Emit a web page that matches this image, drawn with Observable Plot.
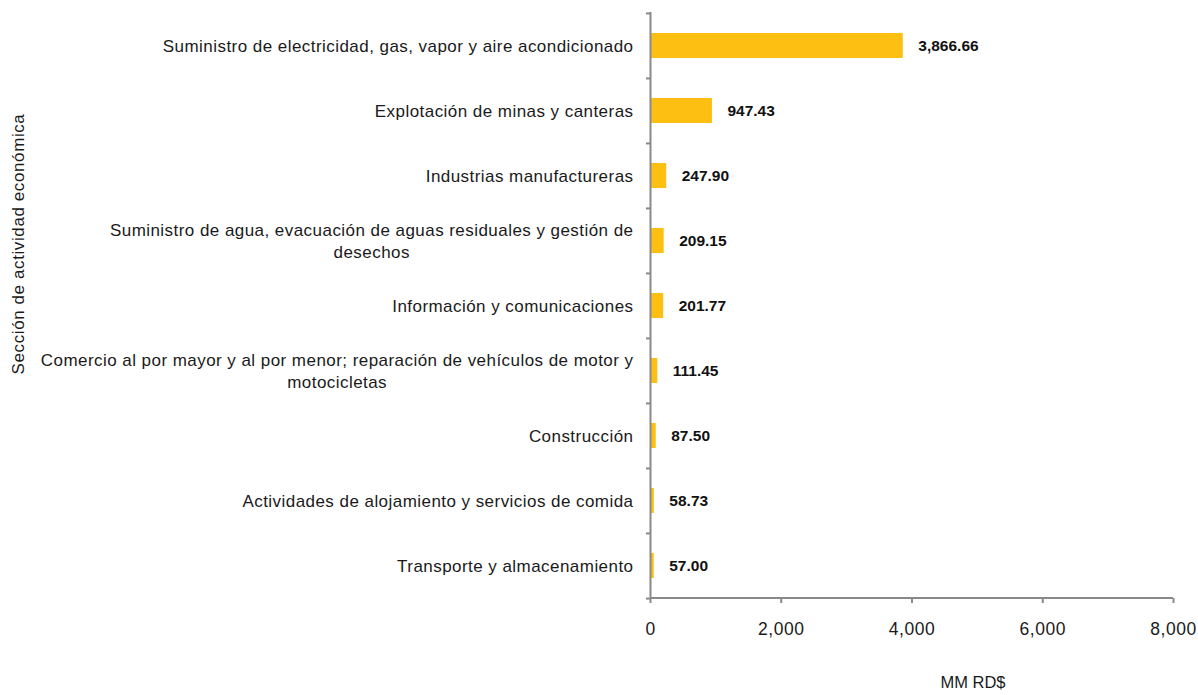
<!DOCTYPE html>
<html>
<head>
<meta charset="utf-8">
<script src="https://cdn.jsdelivr.net/npm/d3@7"></script>
<script src="https://cdn.jsdelivr.net/npm/@observablehq/plot@0.6"></script>
<style>
  html, body { margin: 0; padding: 0; background: #fff; }
  #chart { width: 1198px; height: 695px; }
  g[aria-label="y-axis tick label"] text { letter-spacing: 0.45px; }
  g[aria-label="x-axis tick label"] text { letter-spacing: 0.5px; }
</style>
</head>
<body>
<div id="chart"></div>
<script>
const categories = [
  "Suministro de electricidad, gas, vapor y aire acondicionado",
  "Explotación de minas y canteras",
  "Industrias manufactureras",
  "Suministro de agua, evacuación de aguas residuales y gestión de\ndesechos",
  "Información y comunicaciones",
  "Comercio al por mayor y al por menor; reparación de vehículos de motor y\nmotocicletas",
  "Construcción",
  "Actividades de alojamiento y servicios de comida",
  "Transporte y almacenamiento"
];
const values = [3866.66, 947.43, 247.90, 209.15, 201.77, 111.45, 87.50, 58.73, 57.00];
const xTicks = [0, 2000, 4000, 6000, 8000];
const xTitle = "MM RD$";
const yTitle = "Sección de actividad económica";

const data = categories.map((c, i) => ({cat: c, value: values[i]}));
const fmt = d3.format(",.2f");

const W = 1198, H = 695;
const mTop = 12, mBottom = 97, mLeft = 650, mRight = 25;
const step = (H - mTop - mBottom) / categories.length;
const axisColor = "#898989";
const font = "Liberation Sans, Arial, sans-serif";

const plot = Plot.plot({
  width: W,
  height: H,
  marginTop: mTop,
  marginBottom: mBottom,
  marginLeft: mLeft,
  marginRight: mRight,
  style: {fontFamily: font, fontSize: "17px", color: "#1a1a1a", background: "#fff"},
  x: {domain: [0, 8000], ticks: xTicks, tickFormat: d3.format(","), label: null},
  y: {domain: categories, paddingInner: 0.62, paddingOuter: 0.31, label: null},
  marks: [
    Plot.barX(data, {x: "value", y: "cat", fill: "#FDC012"}),
    Plot.text(data, {x: "value", y: "cat", text: d => fmt(d.value), dx: 15, textAnchor: "start",
      fontWeight: "bold", fontSize: 15.5, fill: "#111"}),
    // y-axis boundary ticks
    Plot.ruleY(categories, {y: d => d, x1: -62, x2: 0, dy: -step / 2, stroke: axisColor, strokeWidth: 2}),
    Plot.ruleY(categories.slice(-1), {y: d => d, x1: -62, x2: 0, dy: step / 2, stroke: axisColor, strokeWidth: 2}),
    Plot.axisY({tickSize: 0, tickPadding: 17, fontSize: 17, lineHeight: 1.3, label: null, textAnchor: "end", dy: -1}),
    Plot.axisX({ticks: xTicks, tickFormat: d3.format(","), tickSize: 5, tickPadding: 19, fontSize: 17.5,
      stroke: axisColor, strokeWidth: 2, label: null}),
    Plot.ruleX([0], {stroke: axisColor, strokeWidth: 2})
  ]
});

document.getElementById("chart").appendChild(plot);
const svg = d3.select(plot);

// bottom axis line
svg.append("line")
  .attr("x1", mLeft).attr("x2", W - mRight)
  .attr("y1", H - mBottom).attr("y2", H - mBottom)
  .attr("stroke", axisColor).attr("stroke-width", 2);

// center multi-line tick labels relative to each other (right-aligned block)
svg.selectAll('g[aria-label="y-axis tick label"] text').each(function() {
  const tspans = this.querySelectorAll("tspan");
  if (tspans.length > 1) {
    const w = this.getBBox().width;
    this.setAttribute("text-anchor", "middle");
    tspans.forEach(t => t.setAttribute("x", -w / 2));
  }
});

// axis titles
svg.append("text")
  .attr("transform", `translate(24, 244) rotate(-90)`)
  .attr("text-anchor", "middle")
  .attr("font-family", font).attr("font-size", 17).attr("fill", "#1a1a1a")
  .attr("letter-spacing", "0.6px")
  .text(yTitle);
svg.append("text")
  .attr("x", 973).attr("y", 688)
  .attr("text-anchor", "middle")
  .attr("font-family", font).attr("font-size", 16.5).attr("fill", "#1a1a1a")
  .text(xTitle);
</script>
</body>
</html>
